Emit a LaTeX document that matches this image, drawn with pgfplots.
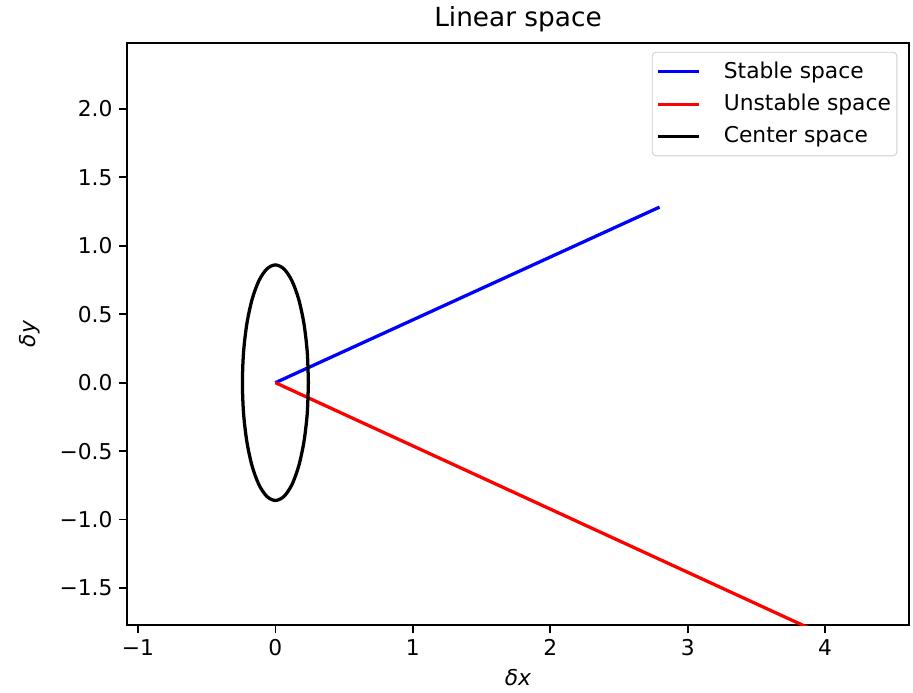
\documentclass[border=0pt]{standalone}
\usepackage{fontspec}
\setmainfont{DejaVu Sans}
\usepackage{pgfplots}
\pgfplotsset{compat=1.18}
\begin{document}
\begin{tikzpicture}[x=0.505pt,y=0.505pt]
\begin{axis}[
  scale only axis,
  width=395pt, height=294pt,
  xmin=-1.08, xmax=4.61, ymin=-1.77, ymax=2.48,
  xtick={-1,0,1,2,3,4},
  xticklabels={−1,0,1,2,3,4},
  ytick={-1.5,-1,-0.5,0,0.5,1,1.5,2},
  yticklabels={−1.5,−1.0,−0.5,0.0,0.5,1.0,1.5,2.0},
  tick align=outside, tick pos=left,
  major tick length=3.8pt,
  tick style={black, line width=0.85pt},
  axis line style={line width=0.85pt},
  ticklabel style={font=\fontsize{11}{13}\selectfont},
  xlabel={\textit{δx}}, ylabel={\textit{δy}},
  label style={font=\fontsize{11}{13}\selectfont},
  xlabel style={yshift=0pt},
  ylabel style={yshift=3pt},
  title={Linear space},
  title style={font=\fontsize{13.3}{15}\selectfont, yshift=-4pt},
  legend style={font=\fontsize{11}{13}\selectfont, draw=black!20, rounded corners=2pt, inner xsep=1pt, inner ysep=3pt, row sep=2.5pt, at={(0.985,0.985)}, anchor=north east},
  legend cell align=left,
  legend image code/.code={\draw[#1] (0pt,0pt) -- (21pt,0pt); \path (-1pt,0pt) (30.5pt,0pt);},
  clip=true,
]
\coordinate (bl) at (rel axis cs:0,0);
\coordinate (tr) at (rel axis cs:1,1);
\addplot[blue, line width=1.65pt] coordinates {(0,0) (2.795,1.282)};
\addlegendentry{Stable space}
\addplot[red, line width=1.65pt] coordinates {(0,0) (4.0,-1.846)};
\addlegendentry{Unstable space}
\addplot[black, line width=1.65pt, smooth] coordinates {
(0.24,0) (0.2318,0.2226) (0.2078,0.43) (0.1697,0.6081) (0.12,0.7448) (0.0621,0.8307) (0,0.86)
(-0.0621,0.8307) (-0.12,0.7448) (-0.1697,0.6081) (-0.2078,0.43) (-0.2318,0.2226) (-0.24,0)
(-0.2318,-0.2226) (-0.2078,-0.43) (-0.1697,-0.6081) (-0.12,-0.7448) (-0.0621,-0.8307) (0,-0.86)
(0.0621,-0.8307) (0.12,-0.7448) (0.1697,-0.6081) (0.2078,-0.43) (0.2318,-0.2226) (0.24,0)
};
\addlegendentry{Center space}
\end{axis}
\path (bl) ++(-127,-62) coordinate (p1);
\path (tr) ++(4,41) coordinate (p2);
\path (p1) rectangle (p2);
\end{tikzpicture}
\end{document}
